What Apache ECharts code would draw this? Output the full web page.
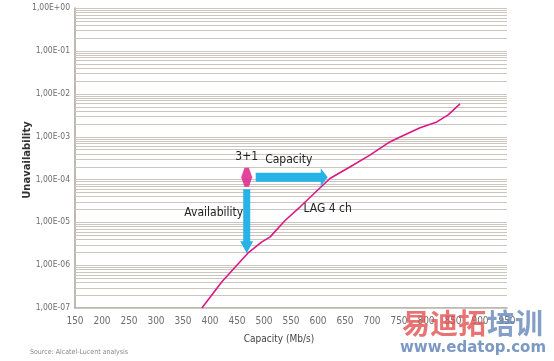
<!DOCTYPE html>
<html>
<head>
<meta charset="utf-8">
<script src="https://cdn.jsdelivr.net/npm/echarts@6/dist/echarts.min.js"></script>
<style>
html,body{margin:0;padding:0;background:#fff;}
#c{width:554px;height:361px;}
</style>
</head>
<body>
<div id="c"></div>
<script>
// ---- data ----
const xTicks = [150,200,250,300,350,400,450,500,550,600,650,700,750,800,850,900,950];
const capacity = [385, 422, 470, 496, 511, 539, 567, 622, 659, 696, 733, 752, 789, 820, 841, 863];
const unavailability = [1e-7, 4.1e-7, 1.9e-6, 3.5e-6, 4.5e-6, 1.1e-5, 2.3e-5, 1.05e-4, 1.95e-4, 3.7e-4, 7.5e-4, 9.8e-4, 1.6e-3, 2.2e-3, 3.2e-3, 5.8e-3];
const markerPoint = [468, 1.12e-4];       // "3+1"
const capacityArrowEnd = 618;             // capacity at tip of "Capacity" arrow
const availabilityArrowEnd = 1.9e-6;      // unavailability at tip of "Availability" arrow
const seriesName = 'LAG 4 ch';

const NARROW = "'DejaVu Sans','Liberation Sans',sans-serif";
const MAGENTA = '#dc1783';
const CYAN = '#27b3e6';
const GRID = '#cdc6bf';

// minor/major grid lines of the log axis (1..9 x 10^e)
const gridVals = [];
for (let e = -7; e <= 0; e++) {
  for (let k = 1; k <= 9; k++) {
    const v = k * Math.pow(10, e);
    if (v <= 1.0000001) gridVals.push(v);
  }
}

function fmt(v) {
  const e = Math.round(Math.log10(v));
  const s = e < 0 ? '-' : '+';
  const a = Math.abs(e);
  return '1,00E' + s + (a < 10 ? '0' : '') + a;
}

const chart = echarts.init(document.getElementById('c'), null, {renderer: 'canvas'});
chart.setOption({
  animation: false,
  grid: {left: 75, right: 47, top: 8, bottom: 53},
  xAxis: {
    type: 'value', min: xTicks[0], max: xTicks[xTicks.length - 1], interval: 50,
    axisLine: {show: true, lineStyle: {color: '#aaa39c', width: 1.5}},
    axisTick: {show: false},
    splitLine: {show: false},
    axisLabel: {color: '#6d6d6d', fontFamily: NARROW, fontWeight: 'condensed', fontSize: 10, margin: 8}
  },
  yAxis: {
    type: 'log', min: 1e-7, max: 1, logBase: 10,
    axisLine: {show: true, lineStyle: {color: '#aaa39c', width: 1.5}},
    axisTick: {show: false},
    splitLine: {show: false},
    axisLabel: {color: '#6d6d6d', fontFamily: NARROW, fontWeight: 'condensed', fontSize: 8.5, margin: 5, formatter: fmt}
  },
  series: [
    {
      type: 'custom', name: 'grid', silent: true, z: 1,
      data: gridVals.map(v => [xTicks[0], v]),
      renderItem: function (params, api) {
        const y = Math.round(api.coord([xTicks[0], api.value(1)])[1]) + 0.5;
        const x0 = params.coordSys.x, x1 = params.coordSys.x + params.coordSys.width;
        return {type: 'line', shape: {x1: x0, y1: y, x2: x1, y2: y},
          style: {stroke: GRID, lineWidth: 1}};
      },
      clip: false
    },
    {
      type: 'line', name: seriesName,
      data: capacity.map((c, i) => [c, unavailability[i]]),
      showSymbol: false, symbol: 'none', smooth: false,
      lineStyle: {color: MAGENTA, width: 1.6},
      z: 5
    },
    {
      type: 'scatter', name: '3+1', data: [markerPoint],
      symbol: 'path://M3,0 L7,0 L10,9.5 L7,19 L3,19 L0,9.5 Z',
      symbolSize: [11, 19],
      itemStyle: {color: MAGENTA}, z: 10
    }
  ]
});

const p = chart.convertToPixel({gridIndex: 0}, markerPoint);
const tipX = chart.convertToPixel({gridIndex: 0}, [capacityArrowEnd, markerPoint[1]])[0];
const tipY = chart.convertToPixel({gridIndex: 0}, [markerPoint[0], availabilityArrowEnd])[1];
const cx = p[0], cy = p[1];
const F = (s) => 'condensed ' + s + 'px ' + NARROW;

chart.setOption({
  graphic: [
    // Capacity arrow (right)
    {type: 'polygon', z: 20, shape: {points: [
      [cx + 9, cy - 4.5], [tipX - 7, cy - 4.5], [tipX - 7, cy - 9], [tipX, cy],
      [tipX - 7, cy + 9], [tipX - 7, cy + 4.5], [cx + 9, cy + 4.5]]},
      style: {fill: CYAN}},
    // Availability arrow (down)
    {type: 'polygon', z: 20, shape: {points: [
      [cx - 3.5, cy + 12], [cx + 3.5, cy + 12], [cx + 3.5, tipY - 12], [cx + 6.5, tipY - 12],
      [cx, tipY], [cx - 6.5, tipY - 12], [cx - 3.5, tipY - 12]]},
      style: {fill: CYAN}},
    {type: 'text', z: 20, x: cx, y: cy - 20, style: {text: '3+1', font: F(12), fill: '#222', textAlign: 'center', textVerticalAlign: 'middle'}},
    {type: 'text', z: 20, x: cx + 42, y: cy - 17, style: {text: 'Capacity', font: F(12), fill: '#222', textAlign: 'center', textVerticalAlign: 'middle'}},
    {type: 'text', z: 20, x: cx - 33, y: cy + 36, style: {text: 'Availability', font: F(12), fill: '#222', textAlign: 'center', textVerticalAlign: 'middle'}},
    {type: 'text', z: 20, x: cx + 81, y: cy + 32, style: {text: seriesName, font: F(12), fill: '#222', textAlign: 'center', textVerticalAlign: 'middle'}},
    // axis names
    {type: 'text', z: 20, x: 27, y: 160, rotation: Math.PI / 2, style: {text: 'Unavailability', font: 'bold 10px ' + "'DejaVu Sans',sans-serif", fill: '#333', textAlign: 'center', textVerticalAlign: 'middle'}},
    {type: 'text', z: 20, x: 279, y: 339, style: {text: 'Capacity (Mb/s)', font: F(10), fill: '#444', textAlign: 'center', textVerticalAlign: 'middle'}},
    {type: 'text', z: 20, x: 30, y: 352, style: {text: 'Source: Alcatel-Lucent analysis', font: F(7), fill: '#888', textAlign: 'left', textVerticalAlign: 'middle'}},
    // watermark
    {type: 'text', z: 30, x: 402, y: 323, style: {text: '易迪拓', font: 'bold 28px "Noto Sans CJK SC",sans-serif', fill: 'rgba(226,80,80,0.8)', textAlign: 'left', textVerticalAlign: 'middle'}},
    {type: 'text', z: 30, x: 487, y: 323, style: {text: '培训', font: 'bold 28px "Noto Sans CJK SC",sans-serif', fill: 'rgba(100,135,185,0.8)', textAlign: 'left', textVerticalAlign: 'middle'}},
    {type: 'text', z: 30, x: 473, y: 348, style: {text: 'www.edatop.com', font: 'bold 15px "DejaVu Sans",sans-serif', fill: 'rgba(100,135,185,0.85)', textAlign: 'center', textVerticalAlign: 'middle'}}
  ]
});
</script>
</body>
</html>
